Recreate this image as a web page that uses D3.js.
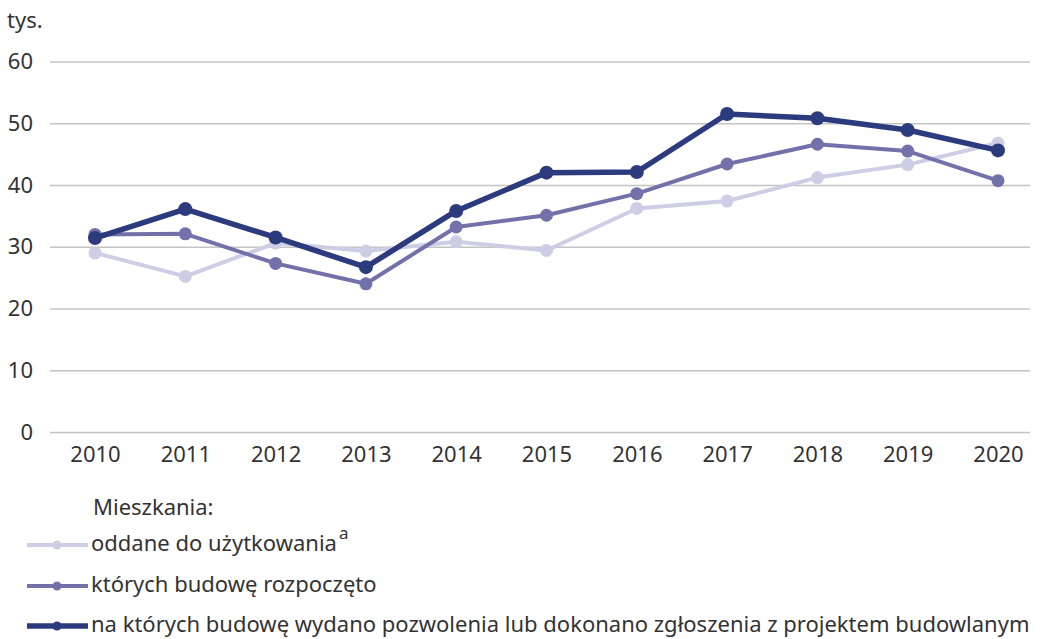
<!DOCTYPE html>
<html><head><meta charset="utf-8">
<script src="https://cdn.jsdelivr.net/npm/d3@7"></script>
<style>body{margin:0;background:#fff}svg{display:block}text{font-family:"Noto Sans",sans-serif;fill:#333}</style>
</head><body><svg id="c" width="1040" height="639"></svg>
<script>
const years = ["2010","2011","2012","2013","2014","2015","2016","2017","2018","2019","2020"];
const oddane = [29.0,25.2,30.6,29.3,30.8,29.4,36.2,37.4,41.2,43.3,46.8];
const rozpoczete = [32.0,32.1,27.3,24.0,33.2,35.1,38.6,43.4,46.6,45.5,40.7];
const pozwolenia = [31.4,36.1,31.5,26.7,35.8,42.0,42.1,51.5,50.8,48.9,45.6];
const yTicks = [0,10,20,30,40,50,60];
const seriesNames = ["oddane do użytkowania","których budowę rozpoczęto","na których budowę wydano pozwolenia lub dokonano zgłoszenia z projektem budowlanym"];
const colors = ["#cdcde5","#7371aa","#2c3a7e"];

const svg = d3.select("#c");
const x = d3.scalePoint().domain(years).range([95,998]);
const y = d3.scaleLinear().domain([0,60]).range([432,61.5]);

const grid = svg.append("g").call(d3.axisLeft(y).tickValues(yTicks).tickSize(-980).tickPadding(17))
  .attr("transform","translate(50,0)");
grid.select(".domain").remove();
grid.selectAll(".tick line").attr("stroke","#c4c4c4").attr("stroke-width",1.5);
grid.selectAll(".tick text").attr("font-size",22).attr("fill","#333").attr("font-family","Noto Sans");

const xa = svg.append("g").attr("transform","translate(0,432)").call(d3.axisBottom(x).tickSize(0).tickPadding(14));
xa.select(".domain").remove();
xa.selectAll(".tick text").attr("font-size",22).attr("fill","#333").attr("font-family","Noto Sans");

svg.append("text").attr("x",7).attr("y",28).attr("font-size",22).text("tys.");

const data = [oddane, rozpoczete, pozwolenia];
const widths = [4,4,5.5];
const radii = [6.5,6.5,7];
const line = d3.line().x((d,i)=>x(years[i])).y(d=>y(d));
data.forEach((s,k)=>{
  svg.append("path").datum(s).attr("d",line).attr("fill","none").attr("stroke",colors[k]).attr("stroke-width",widths[k]).attr("stroke-linejoin","round");
  svg.append("g").selectAll("circle").data(s).join("circle")
    .attr("cx",(d,i)=>x(years[i])).attr("cy",d=>y(d)).attr("r",radii[k]).attr("fill",colors[k]);
});

svg.append("text").attr("x",93).attr("y",515).attr("font-size",22).text("Mieszkania:");
const ly = [545,586,626];
seriesNames.forEach((n,k)=>{
  const g = svg.append("g");
  g.append("line").attr("x1",27).attr("x2",88).attr("y1",ly[k]).attr("y2",ly[k]).attr("stroke",colors[k]).attr("stroke-width",widths[k]);
  g.append("circle").attr("cx",57).attr("cy",ly[k]).attr("r",4.5).attr("fill",colors[k]);
  const t = g.append("text").attr("x",91).attr("y",ly[k]+6).attr("font-size",22).text(n);
  if(k===0) t.append("tspan").attr("dy",-12).attr("dx",2).attr("font-size",17).text("a");
});
</script></body></html>
